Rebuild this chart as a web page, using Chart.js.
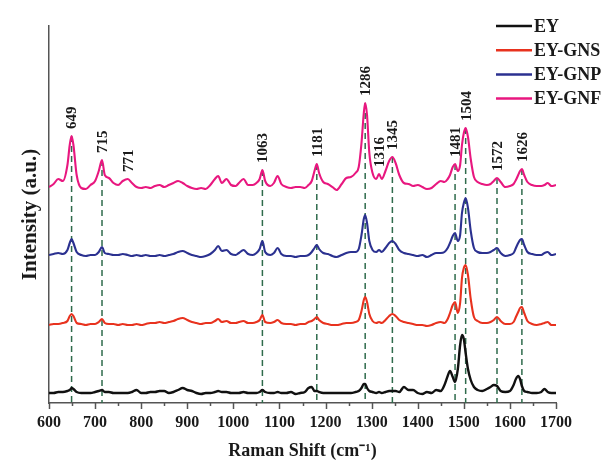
<!DOCTYPE html>
<html>
<head>
<meta charset="utf-8">
<script src="https://cdn.jsdelivr.net/npm/chart.js@4"></script>
<style>
  html, body { margin: 0; padding: 0; background: #fff; }
  canvas { display: block; }
</style>
</head>
<body>
<canvas id="myChart" width="607" height="468"></canvas>
<script>
// Raman shift (cm-1) sample positions, shared by every spectrum
const shifts = [
  600, 610, 620, 630, 640, 645, 649, 653, 660, 670,
  680, 690, 700, 708, 715, 721, 730, 740, 750, 760,
  771, 780, 790, 800, 810, 820, 830, 840, 850, 860,
  870, 880, 890, 900, 910, 920, 930, 940, 950, 960,
  967, 975, 985, 995, 1005, 1012, 1022, 1032, 1042, 1050,
  1057, 1063, 1069, 1080, 1088, 1096, 1104, 1115, 1125, 1135,
  1145, 1155, 1163, 1170, 1176, 1181, 1186, 1195, 1205, 1215,
  1224, 1235, 1245, 1255, 1265, 1272, 1278, 1283, 1286, 1290,
  1295, 1302, 1310, 1316, 1322, 1330, 1338, 1345, 1352, 1360,
  1370, 1380, 1390, 1400, 1410, 1420, 1430, 1440, 1450, 1458,
  1465, 1470, 1476, 1481, 1487, 1492, 1496, 1500, 1504, 1509,
  1515, 1522, 1530, 1540, 1550, 1558, 1565, 1572, 1580, 1590,
  1600, 1608, 1613, 1618, 1622, 1626, 1631, 1638, 1648, 1658,
  1668, 1675, 1682, 1690, 1700
];

// intensities (a.u., already offset for stacking)
const ey = [
  10, 10, 11, 11, 12, 13, 15, 14, 11, 10,
  10, 10, 11, 12, 13, 11, 11, 10, 10, 10,
  10, 11, 13, 10, 10, 11, 11, 12, 12, 10,
  11, 13, 15, 13, 12, 10, 9, 10, 10, 11,
  12, 11, 11, 10, 10, 10, 11, 10, 10, 10,
  11, 13, 11, 10, 10, 11, 10, 10, 11, 9,
  10, 11, 15, 16, 12, 12, 11, 10, 10, 10,
  10, 10, 10, 10, 11, 12, 15, 19, 19, 15,
  12, 11, 10, 11, 10, 11, 12, 12, 12, 11,
  16, 13, 13, 10, 9, 11, 10, 13, 12, 18,
  27, 32, 26, 21, 34, 58, 68, 64, 50, 34,
  23, 16, 13, 12, 14, 16, 18, 17, 12, 11,
  12, 18, 24, 27, 24, 17, 12, 11, 10, 10,
  11, 14, 11, 10, 10
];
const eyGns = [
  78, 79, 79, 80, 82, 87, 89, 87, 80, 79,
  78, 79, 79, 81, 84, 80, 79, 79, 78, 79,
  78, 78, 79, 78, 79, 80, 80, 81, 80, 81,
  82, 84, 85, 83, 81, 80, 79, 80, 80, 82,
  84, 81, 82, 80, 80, 81, 82, 80, 80, 81,
  83, 88, 81, 80, 81, 83, 80, 79, 79, 78,
  79, 79, 81, 82, 84, 86, 83, 80, 79, 78,
  78, 79, 80, 80, 81, 83, 92, 103, 106, 101,
  89, 82, 80, 81, 80, 83, 87, 89, 87, 83,
  81, 80, 79, 78, 78, 77, 78, 80, 81, 80,
  84, 90, 98, 101, 90, 100, 125, 135, 138, 128,
  104, 86, 82, 80, 80, 81, 83, 86, 82, 79,
  79, 81, 86, 91, 95, 96, 90, 82, 79, 78,
  79, 80, 81, 78, 78
];
const eyGnp = [
  148, 149, 150, 149, 153, 160, 164, 160, 151, 148,
  147, 148, 148, 151, 156, 150, 149, 148, 148, 149,
  148, 147, 148, 147, 148, 147, 147, 148, 147, 148,
  149, 151, 152, 150, 148, 147, 146, 147, 149, 153,
  157, 152, 153, 149, 148, 150, 153, 149, 148, 150,
  154, 162, 151, 148, 150, 155, 149, 147, 147, 146,
  147, 147, 148, 151, 155, 158, 154, 150, 149, 147,
  146, 148, 150, 151, 151, 154, 168, 184, 188, 180,
  162, 153, 151, 153, 151, 155, 160, 162, 159, 153,
  150, 149, 148, 147, 148, 146, 148, 150, 150, 151,
  155, 160, 167, 170, 162, 168, 190, 200, 205, 195,
  172, 155, 151, 150, 150, 151, 153, 155, 150, 147,
  148, 150, 155, 160, 163, 164, 158, 151, 149, 148,
  148, 150, 151, 148, 149
];
const eyGnf = [
  216, 219, 224, 222, 238, 258, 267, 258, 228, 215,
  214, 218, 222, 232, 243, 228, 225, 220, 218, 222,
  224, 220, 216, 215, 216, 215, 217, 218, 216, 218,
  220, 222, 220, 217, 215, 214, 215, 214, 218, 224,
  227, 220, 224, 218, 217, 220, 224, 218, 218, 220,
  224, 233, 222, 217, 220, 227, 219, 216, 215, 216,
  216, 215, 218, 222, 232, 239, 230, 221, 219, 216,
  213, 219, 225, 226, 230, 236, 260, 290, 300, 288,
  250, 230, 224, 229, 224, 232, 242, 246, 240, 228,
  220, 219, 217, 218, 216, 214, 215, 219, 222, 221,
  224, 228, 236, 239, 232, 238, 258, 270, 275, 266,
  244, 226, 221, 219, 218, 219, 222, 225, 221, 216,
  217, 219, 223, 228, 232, 234, 228, 221, 218, 217,
  217, 218, 220, 217, 218
];

const seriesNames = ['EY', 'EY-GNS', 'EY-GNP', 'EY-GNF'];
const seriesColors = ['#111111', '#e8321e', '#2b3190', '#e8177f'];
const xTicks = [600, 700, 800, 900, 1000, 1100, 1200, 1300, 1400, 1500, 1600, 1700];
const peakLabels = [649, 715, 771, 1063, 1181, 1286, 1316, 1345, 1481, 1504, 1572, 1626];
const markedPeaks = [649, 715, 1063, 1181, 1286, 1345, 1481, 1504, 1572, 1626];

const serif = '"Liberation Serif", "Times New Roman", serif';

// highest EY-GNF value close to a peak position
const topNear = (p) => {
  let best = -Infinity;
  shifts.forEach((s, i) => {
    if (Math.abs(s - p) <= 4 && eyGnf[i] > best) best = eyGnf[i];
  });
  return best;
};

const peakPlugin = {
  id: 'peaks',
  beforeDatasetsDraw(chart) {
    const { ctx, chartArea } = chart;
    const x = chart.scales.x, y = chart.scales.y;
    ctx.save();
    ctx.strokeStyle = '#2f6b4c';
    ctx.lineWidth = 1.5;
    ctx.setLineDash([6, 4]);
    markedPeaks.forEach(p => {
      const px = x.getPixelForValue(p);
      ctx.beginPath();
      ctx.moveTo(px, y.getPixelForValue(topNear(p)));
      ctx.lineTo(px, chartArea.bottom);
      ctx.stroke();
    });
    ctx.restore();
  },
  afterDatasetsDraw(chart) {
    const { ctx } = chart;
    const x = chart.scales.x, y = chart.scales.y;
    ctx.save();
    ctx.fillStyle = '#1a1a1a';
    ctx.font = 'bold 15px ' + serif;
    ctx.textAlign = 'left';
    ctx.textBaseline = 'middle';
    peakLabels.forEach(p => {
      const px = x.getPixelForValue(p) + 1;
      const py = y.getPixelForValue(topNear(p)) - 7;
      ctx.save();
      ctx.translate(px, py);
      ctx.rotate(-Math.PI / 2);
      ctx.fillText(String(p), 0, 0);
      ctx.restore();
    });
    ctx.restore();
  },
  afterDraw(chart) {
    const { ctx, chartArea } = chart;
    const x = chart.scales.x;
    ctx.save();
    // tick marks, major every 100, minor every 50
    ctx.strokeStyle = '#555';
    ctx.lineWidth = 1.5;
    for (let v = 600; v <= 1700; v += 50) {
      const px = Math.round(x.getPixelForValue(v)) + 0.5;
      const len = v % 100 === 0 ? 6 : 3;
      ctx.beginPath();
      ctx.moveTo(px, chartArea.bottom);
      ctx.lineTo(px, chartArea.bottom + len);
      ctx.stroke();
    }
    // legend
    ctx.font = 'bold 18px ' + serif;
    ctx.textBaseline = 'middle';
    ctx.textAlign = 'left';
    chart.data.datasets.forEach((ds, i) => {
      const ly = 26 + i * 24.2;
      ctx.strokeStyle = ds.borderColor;
      ctx.lineWidth = 2.5;
      ctx.beginPath();
      ctx.moveTo(496, ly);
      ctx.lineTo(532, ly);
      ctx.stroke();
      ctx.fillStyle = '#1a1a1a';
      ctx.fillText(ds.label, 534, ly + 1);
    });
    ctx.restore();
  }
};

const seriesValues = [ey, eyGns, eyGnp, eyGnf];

new Chart(document.getElementById('myChart'), {
  type: 'line',
  data: {
    datasets: seriesValues.map((vals, i) => ({
      label: seriesNames[i],
      data: shifts.map((s, j) => ({ x: s, y: vals[j] })),
      borderColor: seriesColors[i],
      borderWidth: i === 0 ? 2.4 : 2.1,
      pointRadius: 0,
      fill: false,
      tension: 0.4,
      cubicInterpolationMode: 'monotone'
    }))
  },
  options: {
    responsive: false,
    animation: false,
    devicePixelRatio: 1,
    layout: { padding: { top: 26, right: 51, left: 0, bottom: 0 } },
    plugins: {
      legend: { display: false },
      tooltip: { enabled: false }
    },
    scales: {
      x: {
        type: 'linear',
        min: 600,
        max: 1700,
        afterBuildTicks: (s) => { s.ticks = xTicks.map(v => ({ value: v })); },
        afterFit: (s) => { s.height = 65; },
        ticks: {
          autoSkip: false,
          maxRotation: 0,
          padding: 10,
          color: '#1a1a1a',
          font: { family: serif, size: 16, weight: 'bold' },
          callback: (v) => String(v)
        },
        grid: { display: false, drawTicks: false },
        border: { display: true, color: '#555', width: 1.5 },
        title: {
          display: true,
          text: 'Raman Shift (cm⁻¹)',
          color: '#1a1a1a',
          font: { family: serif, size: 18, weight: 'bold' },
          padding: { top: 0, bottom: 6 }
        }
      },
      y: {
        min: 0,
        max: 377,
        afterFit: (s) => { s.width = 49; },
        ticks: { display: false },
        grid: { display: false, drawTicks: false },
        border: { display: true, color: '#555', width: 1.5 },
        title: {
          display: true,
          text: 'Intensity (a.u.)',
          color: '#1a1a1a',
          font: { family: serif, size: 21, weight: 'bold' },
          padding: { top: 18, bottom: 0 }
        }
      }
    }
  },
  plugins: [peakPlugin]
});
</script>
</body>
</html>
